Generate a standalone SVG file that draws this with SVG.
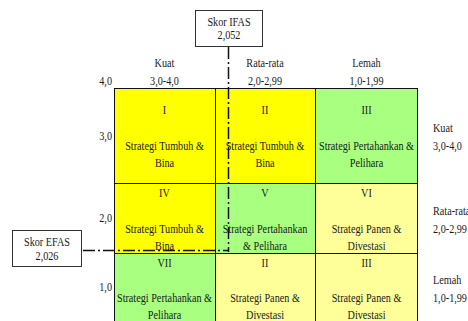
<svg xmlns="http://www.w3.org/2000/svg" width="468" height="321" viewBox="0 0 468 321">
<style>
text{font-family:"Liberation Serif","Times New Roman",serif;font-size:12px;fill:#1a1a1a;text-anchor:middle}
.l{text-anchor:start}
.r{text-anchor:end}
.y{fill:#ffff00}
.g{fill:#a8ff80}
.p{fill:#ffff99}
.grid{stroke:#111;stroke-width:1;fill:none}
.box{fill:#fff;stroke:#333;stroke-width:1}
.dd{stroke:#111;stroke-width:1.5;fill:none;stroke-dasharray:12 3 2 3}
</style>
<rect width="468" height="321" fill="#fff"/>
<g id="cells">
<rect class="y" x="114" y="88" width="101" height="95"/>
<rect class="y" x="215" y="88" width="100" height="95"/>
<rect class="g" x="315" y="88" width="103" height="95"/>
<rect class="y" x="114" y="183" width="101" height="70"/>
<rect class="g" x="215" y="183" width="100" height="70"/>
<rect class="p" x="315" y="183" width="103" height="70"/>
<rect class="g" x="114" y="253" width="101" height="70"/>
<rect class="p" x="215" y="253" width="100" height="70"/>
<rect class="p" x="315" y="253" width="103" height="70"/>
<path class="grid" d="M114.5 88.5H417.5M114.5 183.5H417.5M114.5 253.5H417.5M114.5 88V321M215.5 88V321M315.5 88V321M417.5 88V321"/>
</g>
<g id="cell-text">
<text transform="translate(164.5,114) scale(.85,1)">I</text>
<text transform="translate(164.5,150) scale(.85,1)">Strategi Tumbuh &amp;</text>
<text transform="translate(164.5,167) scale(.85,1)">Bina</text>
<text transform="translate(265,114) scale(.85,1)">II</text>
<text transform="translate(265,150) scale(.85,1)">Strategi Tumbuh &amp;</text>
<text transform="translate(265,167) scale(.85,1)">Bina</text>
<text transform="translate(366.5,114) scale(.85,1)">III</text>
<text transform="translate(366.5,150) scale(.85,1)">Strategi Pertahankan &amp;</text>
<text transform="translate(366.5,167) scale(.85,1)">Pelihara</text>
<text transform="translate(164.5,197) scale(.85,1)">IV</text>
<text transform="translate(164.5,232.5) scale(.85,1)">Strategi Tumbuh &amp;</text>
<text transform="translate(164.5,249.5) scale(.85,1)">Bina</text>
<text transform="translate(265,197) scale(.85,1)">V</text>
<text transform="translate(265,232.5) scale(.85,1)">Strategi Pertahankan</text>
<text transform="translate(265,249.5) scale(.85,1)">&amp; Pelihara</text>
<text transform="translate(366.5,197) scale(.85,1)">VI</text>
<text transform="translate(366.5,232.5) scale(.85,1)">Strategi Panen &amp;</text>
<text transform="translate(366.5,249.5) scale(.85,1)">Divestasi</text>
<text transform="translate(164.5,266.5) scale(.85,1)">VII</text>
<text transform="translate(164.5,301.5) scale(.85,1)">Strategi Pertahankan &amp;</text>
<text transform="translate(164.5,319) scale(.85,1)">Pelihara</text>
<text transform="translate(265,266.5) scale(.85,1)">II</text>
<text transform="translate(265,301.5) scale(.85,1)">Strategi Panen &amp;</text>
<text transform="translate(265,319) scale(.85,1)">Divestasi</text>
<text transform="translate(366.5,266.5) scale(.85,1)">III</text>
<text transform="translate(366.5,301.5) scale(.85,1)">Strategi Panen &amp;</text>
<text transform="translate(366.5,319) scale(.85,1)">Divestasi</text>
</g>
<g id="axis-labels">
<text transform="translate(164.5,67) scale(.85,1)">Kuat</text>
<text transform="translate(164.5,85) scale(.85,1)">3,0-4,0</text>
<text transform="translate(265,67) scale(.85,1)">Rata-rata</text>
<text transform="translate(265,85) scale(.85,1)">2,0-2,99</text>
<text transform="translate(366.5,67) scale(.85,1)">Lemah</text>
<text transform="translate(366.5,85) scale(.85,1)">1,0-1,99</text>
<text class="r" transform="translate(112,85) scale(.85,1)">4,0</text>
<text class="r" transform="translate(112,139.5) scale(.85,1)">3,0</text>
<text class="r" transform="translate(112,222) scale(.85,1)">2,0</text>
<text class="r" transform="translate(112,291) scale(.85,1)">1,0</text>
<text class="l" transform="translate(433,131.5) scale(.85,1)">Kuat</text>
<text class="l" transform="translate(433,149.5) scale(.85,1)">3,0-4,0</text>
<text class="l" transform="translate(433,215) scale(.85,1)">Rata-rata</text>
<text class="l" transform="translate(433,233) scale(.85,1)">2,0-2,99</text>
<text class="l" transform="translate(433,284) scale(.85,1)">Lemah</text>
<text class="l" transform="translate(433,301.5) scale(.85,1)">1,0-1,99</text>
</g>
<g id="connectors">
<path class="dd" d="M228.5 47V252"/>
<path class="dd" d="M83 250.5H228.5"/>
</g>
<g id="ifas">
<rect class="box" x="195.5" y="10.5" width="67" height="36"/>
<text transform="translate(229,25.5) scale(.85,1)">Skor IFAS</text>
<text transform="translate(229,39) scale(.85,1)">2,052</text>
</g>
<g id="efas">
<rect class="box" x="12.5" y="230.5" width="69" height="36"/>
<text transform="translate(47,246) scale(.85,1)">Skor EFAS</text>
<text transform="translate(47,259.5) scale(.85,1)">2,026</text>
</g>
</svg>
